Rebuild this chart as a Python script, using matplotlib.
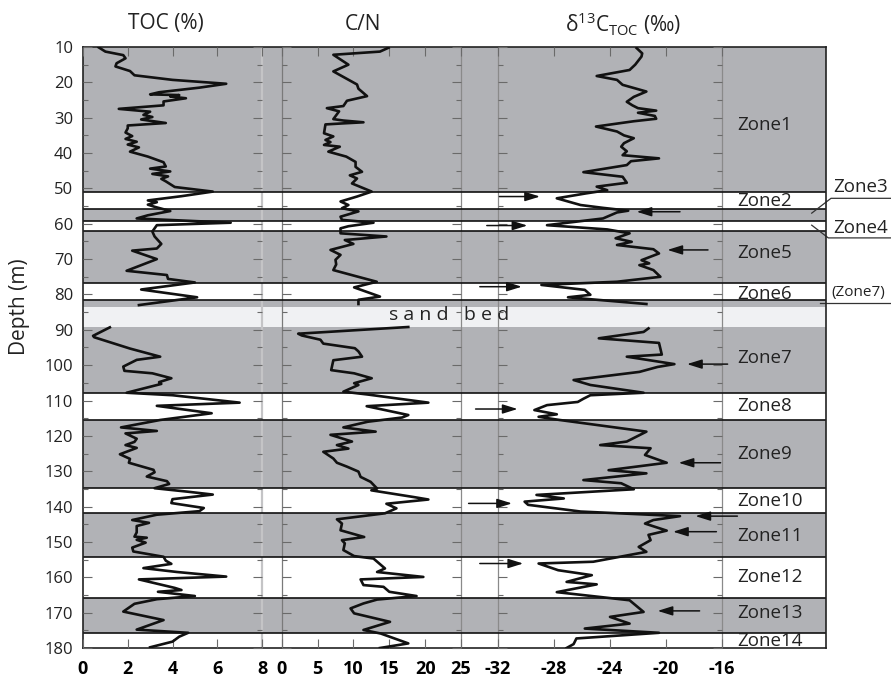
import matplotlib
matplotlib.use("Agg")
import matplotlib.pyplot as plt
from matplotlib.ticker import MultipleLocator, FixedLocator

plt.rcParams['font.family'] = ['Open Sans', 'DejaVu Sans']
plt.rcParams['mathtext.fontset'] = 'custom'
plt.rcParams['mathtext.rm'] = 'Open Sans'
plt.rcParams['mathtext.it'] = 'Open Sans'
plt.rcParams['mathtext.default'] = 'regular'
plt.rcParams['axes.unicode_minus'] = False

# ---------------- data ----------------
toc_depth_a = [10.1, 11.3, 12.3, 13.2, 14.6, 15.5, 16.8, 18.0, 19.3, 20.4, 21.5, 22.8, 23.4, 23.6, 24.0,
               24.5, 25.4, 26.5, 27.5, 28.3, 29.2, 29.8, 30.5, 31.5, 32.2, 33.0, 34.2, 35.2, 36.0, 36.8,
               37.6, 38.4, 39.6, 41.0, 42.6, 43.8, 44.4, 45.2, 45.9, 46.6, 47.3, 48.0, 49.6, 50.9, 52.2,
               53.4, 53.9, 54.6, 55.2, 56.4, 57.6, 58.5, 59.7, 60.4, 62.2, 63.6, 65.7, 67.0, 67.6, 70.0,
               73.3, 74.5, 75.6, 76.6, 78.6, 80.8, 83.0]
toc_a = [0.7, 1.0, 1.8, 1.9, 1.5, 1.45, 2.1, 2.3, 4.0, 6.4, 5.2, 3.4, 3.0, 4.3, 3.9,
         4.6, 3.6, 3.6, 1.6, 3.0, 2.7, 3.1, 2.6, 3.7, 2.0, 2.0, 1.9, 2.2, 1.9, 2.4,
         2.0, 2.5, 2.1, 2.9, 3.6, 3.7, 3.0, 3.9, 3.1, 3.8, 3.5, 3.7, 4.1, 5.8, 4.4,
         2.9, 3.3, 2.9, 3.2, 3.9, 2.9, 2.4, 6.6, 3.3, 3.1, 3.2, 3.5, 3.3, 2.2, 3.3,
         1.95, 3.75, 3.8, 5.0, 2.6, 5.1, 2.5]
toc_depth_b = [89.3, 91.7, 92.1, 95.3, 97.6, 98.5, 100.4, 101.6, 102.3, 103.7, 104.8, 105.3, 107.8, 108.5,
               110.6, 111.5, 113.6, 115.5, 117.6, 118.6, 119.3, 120.8, 121.7, 122.6, 123.4, 125.2, 126.5,
               127.6, 129.6, 130.3, 131.5, 132.8, 133.6, 134.8, 135.8, 136.6, 137.9, 139.0, 140.4, 141.3,
               142.3, 143.8, 144.6, 145.5, 147.3, 148.5, 148.8, 149.4, 150.2, 151.6, 152.7, 154.2, 155.3,
               156.2, 157.4, 158.5, 159.8, 160.6, 163.0, 163.6, 164.1, 165.3, 166.2, 167.5, 169.7, 172.1,
               174.8, 175.7, 176.8, 178.2, 179.8]
toc_b = [1.2, 0.45, 0.5, 2.1, 3.45, 2.4, 1.8, 1.85, 3.1, 3.95, 3.4, 3.5, 1.95, 4.0,
         7.0, 3.3, 5.75, 3.45, 1.7, 3.3, 1.9, 2.4, 2.3, 1.9, 2.4, 1.65, 2.1,
         2.05, 3.15, 3.2, 2.85, 3.75, 3.85, 3.2, 4.7, 5.8, 4.0, 3.95, 5.4, 5.2,
         3.3, 2.2, 2.95, 2.4, 2.4, 2.3, 2.85, 2.4, 2.8, 2.2, 2.25, 3.6, 3.7,
         3.95, 2.7, 4.2, 6.4, 2.5, 4.1, 4.4, 3.35, 5.0, 3.3, 2.3, 1.8, 3.6,
         2.4, 4.7, 4.3, 4.0, 3.0]

cn_depth_a = [10.2, 11.3, 12.2, 15.0, 16.9, 20.6, 21.8, 23.9, 25.2, 26.7, 27.3, 28.2, 30.4, 30.8, 31.3,
              31.6, 31.9, 34.4, 35.3, 36.3, 36.9, 37.7, 38.2, 39.6, 41.0, 42.5, 43.9, 45.3, 46.3, 47.2,
              48.6, 50.9, 52.3, 53.7, 54.7, 55.6, 56.5, 58.0, 58.9, 59.7, 60.7, 61.3, 62.7, 63.6, 64.6,
              65.7, 67.4, 68.8, 70.2, 71.5, 73.1, 74.8, 76.4, 78.0, 80.6, 81.5, 82.7]
cn_a = [14.9, 13.7, 7.2, 9.3, 7.2, 10.5, 10.7, 11.9, 9.1, 8.6, 6.3, 8.0, 7.2, 8.6, 11.4,
        8.6, 6.1, 5.9, 7.2, 6.1, 6.8, 5.9, 8.1, 6.5, 9.0, 10.3, 10.3, 11.2, 9.5, 10.5,
        9.8, 12.55, 10.5, 8.2, 9.3, 8.4, 10.7, 8.2, 8.4, 12.8, 9.3, 8.2, 8.2, 14.6, 8.8,
        10.0, 6.8, 8.2, 7.5, 7.6, 7.2, 10.3, 13.25, 10.1, 13.7, 10.7, 10.7]
cn_depth_b = [89.2, 91.1, 91.6, 92.8, 93.9, 95.2, 96.1, 97.6, 98.6, 101.4, 102.3, 103.7, 105.1, 105.6,
              107.5, 108.3, 110.6, 111.6, 114.1, 114.8, 116.0, 117.6, 118.8, 119.7, 121.6, 122.6, 123.6,
              124.5, 126.4, 127.6, 128.7, 130.1, 131.6, 133.0, 134.9, 135.4, 137.3, 138.0, 139.2, 140.5,
              141.9, 143.6, 144.8, 146.7, 148.6, 149.5, 150.4, 152.3, 154.0, 154.7, 157.5, 158.5, 159.9,
              160.6, 162.2, 162.7, 164.1, 165.3, 166.3, 167.4, 168.8, 170.2, 172.6, 174.9, 175.9, 178.7,
              180.0]
cn_b = [17.65, 2.3, 2.8, 5.4, 5.8, 10.2, 10.7, 11.2, 7.2, 6.9, 10.1, 12.55, 10.1, 10.7,
        8.6, 12.0, 20.45, 11.85, 17.65, 16.8, 12.0, 8.6, 13.1, 6.8, 9.8, 7.7, 9.3,
        5.8, 7.2, 7.7, 9.1, 10.7, 11.0, 12.4, 13.3, 12.5, 18.4, 20.45, 14.6, 16.0,
        14.4, 7.7, 8.4, 8.2, 11.5, 8.4, 8.8, 8.6, 10.1, 12.8, 14.4, 13.3, 19.75,
        11.0, 11.4, 14.2, 15.0, 18.8, 13.3, 11.4, 9.6, 10.1, 15.1, 11.4, 13.8, 17.65,
        13.7]

d13_depth_a = [10.3, 11.8, 12.7, 15.0, 16.5, 18.2, 19.3, 20.7, 22.6, 24.1, 25.5, 26.5, 27.3, 28.0, 28.6,
               29.5, 30.3, 31.0, 32.5, 33.9, 35.0, 35.8, 37.2, 38.2, 39.5, 40.6, 41.5, 42.3, 43.4, 45.4,
               46.7, 48.4, 49.5, 50.5, 51.4, 52.8, 54.7, 55.5, 56.3, 56.8, 58.5, 60.4, 61.6, 62.7, 64.1,
               65.1, 66.0, 67.2, 68.4, 70.3, 71.2, 71.7, 73.1, 75.0, 76.4, 77.3, 78.7, 80.1, 80.8, 82.7]
d13_a = [-22.1, -21.7, -21.75, -22.2, -22.6, -24.95, -23.5, -23.1, -21.4, -22.3, -22.8, -22.4, -22.0, -20.7, -22.0,
         -20.8, -20.7, -22.3, -25.0, -23.5, -23.0, -22.3, -23.0, -23.2, -22.8, -23.1, -20.5, -22.5, -22.8, -25.9,
         -23.1, -22.8, -24.95, -24.2, -25.7, -27.8, -26.1, -24.5, -22.7, -23.5, -24.5, -28.5, -24.2, -22.6, -23.6,
         -22.45, -23.5, -20.9, -20.5, -21.75, -21.2, -21.9, -20.9, -20.4, -23.5, -28.9, -25.8, -25.4, -27.0, -21.4]
d13_depth_b = [89.6, 90.6, 92.4, 93.7, 97.0, 97.6, 99.7, 100.5, 101.9, 104.2, 105.6, 107.8, 108.5, 109.5,
               110.4, 111.3, 112.7, 113.9, 114.6, 115.5, 118.8, 121.6, 122.6, 123.5, 125.4, 127.6, 129.7,
               130.6, 132.5, 133.4, 135.1, 136.7, 137.7, 138.6, 139.5, 141.4, 142.7, 143.8, 144.8, 146.8,
               148.0, 149.5, 151.4, 152.8, 155.6, 156.1, 158.0, 159.4, 161.3, 162.0, 164.2, 166.5, 169.8,
               171.2, 173.1, 174.5, 175.7, 177.3, 178.9, 180.0]
d13_b = [-21.25, -21.6, -24.8, -20.5, -20.3, -22.8, -19.4, -20.6, -21.9, -26.6, -25.4, -21.6, -25.4, -25.9,
         -26.3, -28.5, -29.4, -27.8, -29.1, -27.6, -21.4, -22.8, -24.7, -21.1, -21.5, -19.95, -24.1,
         -21.4, -25.9, -23.2, -22.3, -29.25, -27.3, -30.1, -29.85, -26.1, -19.0, -20.9, -21.5, -19.95,
         -21.25, -21.1, -21.95, -21.4, -25.2, -29.1, -27.7, -25.3, -27.1, -24.95, -27.8, -22.6, -21.6,
         -24.0, -22.6, -25.8, -20.5, -26.4, -26.6, -27.1]

# zone boundaries (depth, m) and labels
zone_lines = [51.0, 55.8, 59.2, 62.0, 76.7, 81.7, 108.0, 115.5, 134.7, 141.7, 154.3, 165.9, 175.7]
gray_top = [10.0, 55.8, 62.0, 81.7, 89.1, 115.5, 141.7, 165.9]
gray_bot = [51.0, 59.2, 76.7, 83.5, 108.0, 134.7, 154.3, 175.7]
sand_top, sand_bot = 83.5, 89.1
zone_names = ['Zone1', 'Zone2', 'Zone5', 'Zone6', 'Zone7', 'Zone8', 'Zone9', 'Zone10',
              'Zone11', 'Zone12', 'Zone13', 'Zone14']
zone_label_depth = [32.1, 53.7, 68.4, 79.8, 98.1, 111.6, 125.1, 138.3, 148.3, 160.0, 170.2, 177.9]

# arrows in the d13C panel: depth, tail value, head value
arrow_depth = [52.3, 56.6, 60.5, 67.4, 77.8, 99.7, 112.4, 127.6, 139.1, 142.7, 147.1, 156.1, 169.5]
arrow_tail = [-31.9, -19.0, -32.8, -17.0, -33.3, -15.6, -33.6, -16.1, -34.1, -14.9, -16.4, -33.3, -17.6]
arrow_head = [-29.0, -22.1, -29.9, -19.9, -30.3, -18.5, -30.6, -19.1, -31.0, -17.9, -19.5, -30.2, -20.6]

toc_ticks = [0, 2, 4, 6, 8]
cn_ticks = [0, 5, 10, 15, 20, 25]
d13_ticks = [-32, -28, -24, -20, -16]
toc_ticklabels = ['0', '2', '4', '6', '8']
cn_ticklabels = ['0', '5', '10', '15', '20', '25']
d13_ticklabels = ['-32', '-28', '-24', '-20', '-16']

# ---------------- layout ----------------
W, H = 891, 680
fig = plt.figure(figsize=(W / 100, H / 100), dpi=100)

TOP, BOT = 47, 648
L, R = 83, 826


def rect(x0, x1):
    return [x0 / W, 1 - BOT / H, (x1 - x0) / W, (BOT - TOP) / H]


GRAY = '#b1b2b6'
SAND = '#f0f1f3'

bg = fig.add_axes(rect(L, R))
bg.set_xlim(0, 1)
bg.set_ylim(180, 10)
bg.set_xticks([])
bg.set_yticks([])
for s in bg.spines.values():
    s.set_color('#222222')
    s.set_linewidth(1.2)
for t, b in zip(gray_top, gray_bot):
    bg.axhspan(t, b, color=GRAY, lw=0)
bg.axhspan(sand_top, sand_bot, color=SAND, lw=0)


def fx(px):
    return (px - L) / (R - L)


# vertical separators
bg.axvline(fx(262), color='#c4c4c6', lw=1.6)
bg.axvline(fx(281.7), color='#7a7a7a', lw=0.9)
bg.axvline(fx(461), color='#8a8a8a', lw=0.9)
bg.axvline(fx(498), color='#8a8a8a', lw=0.9)
bg.axvline(fx(722), color='#8a8a8a', lw=0.9)

for d in zone_lines:
    bg.axhline(d, color='#111111', lw=1.2)

# zone labels
for name, d in zip(zone_names, zone_label_depth):
    bg.text(fx(737.5), d, name, fontsize=13.5, va='center', ha='left', color='#222222')

yt = bg.get_yaxis_transform()
# Zone3 / Zone4 / (Zone7) outside labels
bg.text(fx(833), 49.7, 'Zone3', fontsize=13.5, va='center', ha='left', color='#222222',
        transform=yt, clip_on=False)
bg.plot([fx(811.7), fx(831), fx(891)], [57.0, 52.8, 52.8], transform=yt, color='#333333',
        lw=0.9, clip_on=False)
bg.text(fx(833), 61.1, 'Zone4', fontsize=13.5, va='center', ha='left', color='#222222',
        transform=yt, clip_on=False)
bg.plot([fx(811.7), fx(828.3), fx(891)], [60.4, 64.0, 64.0], transform=yt, color='#333333',
        lw=0.9, clip_on=False)
bg.text(fx(831), 79.4, '(Zone7)', fontsize=11, va='center', ha='left', color='#222222',
        transform=yt, clip_on=False)
bg.plot([fx(820), fx(891)], [82.3, 82.3], transform=yt, color='#333333', lw=0.9, clip_on=False)

bg.text(fx(449.5), 85.9, 's a n d   b e d', fontsize=14, va='center', ha='center', color='#222222')


def make_panel(x0, x1, xlim, ticks, labels, show_ylabels):
    ax = fig.add_axes(rect(x0, x1))
    ax.set_facecolor('none')
    ax.set_xlim(*xlim)
    ax.set_ylim(180, 10)
    for s in ax.spines.values():
        s.set_visible(False)
    ax.yaxis.set_major_locator(MultipleLocator(10))
    ax.yaxis.set_minor_locator(MultipleLocator(5))
    ax.tick_params(axis='y', which='major', direction='in', length=6.5, width=0.8, color='#6a6a6a',
                   left=True, right=True, labelleft=show_ylabels, labelsize=12, pad=7)
    ax.tick_params(axis='y', which='minor', direction='in', length=3.8, width=0.8, color='#6a6a6a',
                   left=True, right=True)
    ax.xaxis.set_major_locator(FixedLocator(ticks))
    ax.set_xticklabels(labels)
    ax.tick_params(axis='x', which='major', direction='in', length=6.5, width=0.8, color='#6a6a6a',
                   top=True, bottom=True, labelsize=13, pad=9)
    for lab in ax.get_xticklabels():
        lab.set_fontweight('bold')
    return ax


ax_toc = make_panel(L, 262, (0, 8), toc_ticks, toc_ticklabels, True)
ax_cn = make_panel(281.7, 461, (0, 25), cn_ticks, cn_ticklabels, False)
ax_d = make_panel(498, 722, (-32, -16), d13_ticks, d13_ticklabels, False)
for lab in ax_toc.get_yticklabels():
    lab.set_color('#222222')

LW = 1.9
ax_toc.plot(toc_a, toc_depth_a, color='#111111', lw=LW)
ax_toc.plot(toc_b, toc_depth_b, color='#111111', lw=LW)
ax_cn.plot(cn_a, cn_depth_a, color='#111111', lw=LW)
ax_cn.plot(cn_b, cn_depth_b, color='#111111', lw=LW)
ax_d.plot(d13_a, d13_depth_a, color='#111111', lw=LW)
ax_d.plot(d13_b, d13_depth_b, color='#111111', lw=LW)

for d, t, h in zip(arrow_depth, arrow_tail, arrow_head):
    ax_d.annotate('', xy=(h, d), xytext=(t, d), annotation_clip=False,
                  arrowprops=dict(arrowstyle='-|>,head_length=0.9,head_width=0.28', lw=1.1,
                                  color='#111111', shrinkA=0, shrinkB=0))

# titles
fig.text(166 / W, 1 - 24 / H, 'TOC (%)', fontsize=15, ha='center', va='center', color='#222222')
fig.text(363 / W, 1 - 24 / H, 'C/N', fontsize=15, ha='center', va='center', color='#222222')
fig.text(623 / W, 1 - 24 / H, r'δ$^{13}$C$_{\mathrm{TOC}}$ (‰)', fontsize=15, ha='center',
         va='center', color='#222222')
fig.text(20 / W, 1 - 307 / H, 'Depth (m)', fontsize=15, rotation=90, ha='center', va='center',
         color='#222222')

fig.savefig('out.png', dpi=100)
